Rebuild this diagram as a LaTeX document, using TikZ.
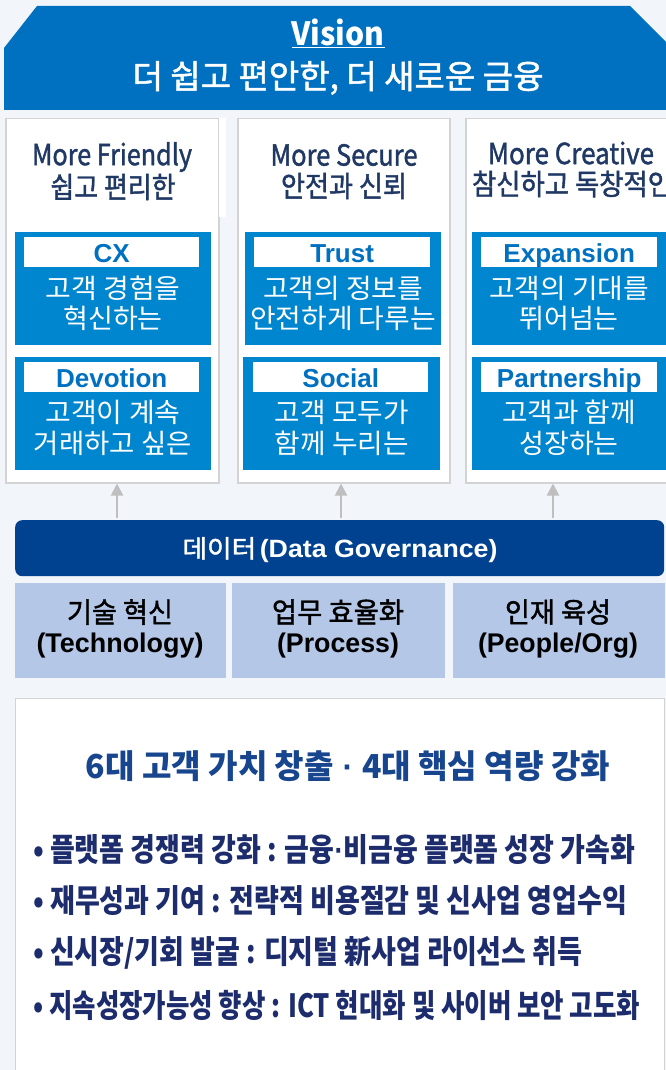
\documentclass[tikz,border=0pt]{standalone}
\usepackage{fontspec}
\newfontfamily\kr{Noto Sans CJK KR}
\newfontfamily\krm{Noto Sans CJK KR}[FakeBold=1.5]
\newfontfamily\ar{Liberation Sans}
\usetikzlibrary{arrows.meta}
\definecolor{bg}{HTML}{F2F5FA}
\definecolor{vis}{HTML}{0070C0}
\definecolor{bluebox}{HTML}{0086CE}
\definecolor{databar}{HTML}{00428F}
\definecolor{lightbox}{HTML}{B4C7E7}
\definecolor{navy}{HTML}{1F3864}
\definecolor{navytitle}{HTML}{17468F}
\definecolor{navybul}{HTML}{1C2C6C}
\definecolor{arrowgray}{HTML}{BFBFBF}
\definecolor{bordergray}{HTML}{D3D3D3}
\newcommand\fs[1]{\fontsize{#1pt}{#1pt}\selectfont}
\newcommand\fitw[2]{\resizebox{#1pt}{\height}{#2}}
\newcommand\tdot{{\ar\bfseries\ ·\ }}
\tikzset{
  colbox/.style={draw=bordergray, line width=1.5pt, fill=white, anchor=north west, inner sep=0pt},
  valbox/.style={fill=bluebox, anchor=north west, inner sep=0pt, minimum width=196pt, minimum height=113pt},
  lblbox/.style={fill=white, anchor=north west, inner sep=0pt, minimum width=175pt, minimum height=30pt},
  lbltext/.style={text=vis, font=\ar\bfseries\fs{26}, inner sep=0pt, anchor=base},
  valtext/.style={text=white, font=\kr\fs{27}, inner sep=0pt},
  coltitle/.style={text=navy, font=\krm\fs{29}, inner sep=0pt},
  basebox/.style={fill=lightbox, anchor=north west, inner sep=0pt, minimum height=95pt},
  basetext/.style={text=black, inner sep=0pt},
  upar/.style={draw=arrowgray, line width=2pt, -{Triangle[length=12pt,width=12pt]}},
  bullet/.style={text=navybul, font=\kr\bfseries\fs{32}, anchor=west, inner sep=0pt}
}
\begin{document}
\begin{tikzpicture}[x=1pt,y=-1pt]
\fill[bg] (0,0) rectangle (666,1070);
\useasboundingbox (0,0) rectangle (666,1070);
\begin{scope}
\clip (0,0) rectangle (666,1070);
% Vision banner
\fill[vis] (4,48) -- (37,6) -- (630,6) -- (666,42) -- (666,110) -- (4,110) -- cycle;
\node[text=white, font=\kr\bfseries\fs{32}, inner sep=0pt] (vtitle) at (338,33) {\fitw{93}{\underline{Vision}}};
\node[text=white, font=\krm\fs{33}, inner sep=0pt] (vtext) at (338,78) {\fitw{411}{더 쉽고 편안한, 더 새로운 금융}};

% columns
\node[colbox, minimum width=213pt, minimum height=364pt] (c1) at (5,118) {};
\fill[white] (218.5,118) rectangle (226,217);
\node[colbox, minimum width=212pt, minimum height=364pt] (c2) at (237,118) {};
\node[colbox, minimum width=215pt, minimum height=364pt] (c3) at (465,118) {};

\node[coltitle] (t1a) at (112,157) {\fitw{160}{More Friendly}};
\node[coltitle] (t1b) at (113,187) {\fitw{125}{쉽고 편리한}};
\node[coltitle] (t2a) at (344,155) {\fitw{147}{More Secure}};
\node[coltitle] (t2b) at (344,186) {\fitw{126}{안전과 신뢰}};
\node[coltitle] (t3a) at (571,153) {\fitw{166}{More Creative}};
\node[coltitle] (t3b) at (572,184) {\fitw{200}{참신하고 독창적인}};

% value boxes col1
\node[valbox] (b11) at (15,232) {};
\node[lblbox] (l11) at (24,237) {};
\node[lbltext] at (l11.center |- 0,262) {CX};
\node[valtext] (v11a) at (113,288) {\fitw{135}{고객 경험을}};
\node[valtext] (v11b) at (113,318) {혁신하는};
\node[valbox] (b12) at (15,357) {};
\node[lblbox] (l12) at (24,362) {};
\node[lbltext] at (l12.center |- 0,387) {Devotion};
\node[valtext] (v12a) at (113,412) {\fitw{135}{고객이 계속}};
\node[valtext] (v12b) at (113,443) {\fitw{158}{거래하고 싶은}};

% col2
\node[valbox] (b21) at (245,232) {};
\node[lblbox, minimum width=176pt] (l21) at (254,237) {};
\node[lbltext] at (l21.center |- 0,262) {Trust};
\node[valtext] (v21a) at (343,288) {\fitw{160}{고객의 정보를}};
\node[valtext] (v21b) at (343,318) {\fitw{186}{안전하게 다루는}};
\node[valbox, minimum width=197pt] (b22) at (243,357) {};
\node[lblbox] (l22) at (253,362) {};
\node[lbltext] at (l22.center |- 0,387) {Social};
\node[valtext] (v22a) at (342,412) {\fitw{134}{고객 모두가}};
\node[valtext] (v22b) at (342,443) {\fitw{134}{함께 누리는}};

% col3
\node[valbox, minimum width=200pt] (b31) at (472,232) {};
\node[lblbox, minimum width=176pt] (l31) at (481,237) {};
\node[lbltext] at (l31.center |- 0,262) {Expansion};
\node[valtext] (v31a) at (569,288) {\fitw{160}{고객의 기대를}};
\node[valtext] (v31b) at (569,318) {뛰어넘는};
\node[valbox, minimum width=200pt] (b32) at (472,357) {};
\node[lblbox, minimum width=176pt] (l32) at (481,362) {};
\node[lbltext] at (l32.center |- 0,387) {Partnership};
\node[valtext] (v32a) at (569,412) {\fitw{134}{고객과 함께}};
\node[valtext] (v32b) at (569,443) {성장하는};

% data bar
\node[fill=databar, rounded corners=7pt, anchor=north west, inner sep=0pt, minimum width=649pt, minimum height=56pt] (data) at (15,520) {};
\node[text=white, inner sep=0pt] (datat) at (340,550) {\fitw{315}{{\krm\fs{25}데이터} {\ar\bfseries\fs{25}(Data Governance)}}};

% arrows
\coordinate (a1) at (117,518);
\coordinate (a2) at (341,518);
\coordinate (a3) at (553,518);
\draw[upar] (a1) -- (a1 |- c1.south);
\draw[upar] (a2) -- (a2 |- c2.south);
\draw[upar] (a3) -- (a3 |- c3.south);

% base boxes
\node[basebox, minimum width=211pt] (p1) at (15,583) {};
\node[basebox, minimum width=213pt] (p2) at (232,583) {};
\node[basebox, minimum width=212pt] (p3) at (453,583) {};
\node[basetext] (p1a) at (120,612) {\fitw{106}{\krm\fs{28}기술 혁신}};
\node[basetext] (p1b) at (120,646) {\fitw{167}{\ar\bfseries\fs{27}(Technology)}};
\node[basetext] (p2a) at (338,612) {\fitw{132}{\krm\fs{28}업무 효율화}};
\node[basetext] (p2b) at (338,646) {\fitw{122}{\ar\bfseries\fs{27}(Process)}};
\node[basetext] (p3a) at (558,612) {\fitw{106}{\krm\fs{28}인재 육성}};
\node[basetext] (p3b) at (558,646) {\fitw{160}{\ar\bfseries\fs{27}(People/Org)}};

% bottom panel
\node[draw=bordergray, line width=1pt, fill=white, anchor=north west, inner sep=0pt, minimum width=649pt, minimum height=380pt] (bottom) at (15,698) {};
\node[text=navytitle, font=\kr\bfseries\fs{33}, inner sep=0pt] (btitle) at (348,766) {\fitw{524}{6대 고객 가치 창출\tdot 4대 핵심 역량 강화}};
\node[bullet] (bl1) at (33,850) {\fitw{602}{• 플랫폼 경쟁력 강화 : 금융{\ar\bfseries·}비금융 플랫폼 성장 가속화}};
\node[bullet] (bl2) at (33,901) {\fitw{594}{• 재무성과 기여 : 전략적 비용절감 및 신사업 영업수익}};
\node[bullet] (bl3) at (33,953) {\fitw{549}{• 신시장/기회 발굴 : 디지털 新사업 라이선스 취득}};
\node[bullet] (bl4) at (33,1005) {\fitw{607}{• 지속성장가능성 향상 : ICT 현대화 및 사이버 보안 고도화}};
\end{scope}
\end{tikzpicture}
\end{document}
